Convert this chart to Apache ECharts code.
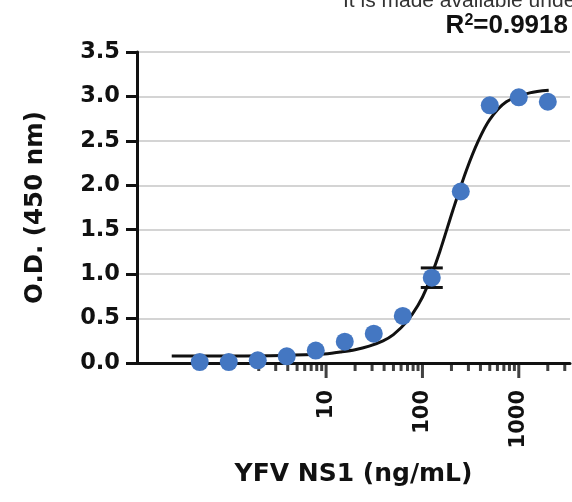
<!DOCTYPE html>
<html>
<head>
<meta charset="utf-8">
<script src="https://cdn.jsdelivr.net/npm/echarts@6/dist/echarts.min.js"></script>
<style>
  html, body { margin: 0; padding: 0; background: #ffffff; }
  #chart { width: 572px; height: 502px; }
</style>
</head>
<body>
<div id="chart"></div>
<script>
// YFV NS1 standard curve: two-fold dilution series, mean O.D. at 450 nm
const concentrations = [0.488, 0.977, 1.953, 3.906, 7.8125, 15.625, 31.25, 62.5, 125, 250, 500, 1000, 2000];
const odMeans = [0.01, 0.01, 0.03, 0.075, 0.14, 0.24, 0.33, 0.53, 0.96, 1.93, 2.90, 2.99, 2.94];
// spread that reaches past the marker (0 = hidden behind the dot)
const odSD = [0, 0, 0, 0, 0, 0, 0, 0, 0.11, 0, 0, 0, 0];

// Fitted sigmoidal curve, sampled along its length
const fitConc = [0.25, 1, 3.5, 9, 14, 20, 28, 39, 50, 68, 90, 110, 151, 207, 286, 380, 499, 743, 1297, 2044];
const fitOD = [0.08, 0.08, 0.085, 0.10, 0.125, 0.15, 0.19, 0.25, 0.32, 0.46, 0.65, 0.84, 1.25, 1.72, 2.17, 2.50, 2.74, 2.94, 3.04, 3.07];

// Tick positions on the log axis
const majorTicks = [10, 100, 1000];
const minorTicks = [2, 3, 4, 5, 6, 7, 8, 9, 20, 30, 40, 50, 60, 70, 80, 90,
                    200, 300, 400, 500, 600, 700, 800, 900, 2000, 3000];
const xTickLabels = ['10', '100', '1000'];

const rSquared = '0.9918';
const licenseLine = 'It is made available under';

const BOLD = '"DejaVu Sans", sans-serif';
const dotColor = '#4477c2';

const chart = echarts.init(document.getElementById('chart'), null, { renderer: 'canvas' });

const option = {
  backgroundColor: '#ffffff',
  animation: false,
  grid: {
    left: 137, right: 2, top: 52, bottom: 139,
    containLabel: false,
    outerBoundsMode: 'none'
  },
  xAxis: {
    type: 'log',
    logBase: 10,
    min: 0.109,
    max: 3400,
    splitNumber: 5,
    name: 'YFV NS1 (ng/mL)',
    nameLocation: 'middle',
    nameGap: 99,
    nameTextStyle: { fontFamily: BOLD, fontWeight: 'bold', fontSize: 25, color: '#111' },
    axisLine: { show: true, onZero: false, lineStyle: { color: '#111', width: 3 } },
    axisTick: { show: false },
    splitLine: { show: false },
    minorTick: { show: false },
    axisLabel: {
      rotate: 90,
      margin: 27,
      fontFamily: BOLD,
      fontWeight: 'bold',
      fontSize: 21,
      color: '#111',
      showMinLabel: true,
      showMaxLabel: true,
      hideOverlap: false,
      formatter: function (v) {
        const r = Math.round(v);
        const i = majorTicks.indexOf(r);
        return (i >= 0 && Math.abs(v - r) < 1e-6 * r) ? xTickLabels[i] : '';
      }
    }
  },
  yAxis: {
    type: 'value',
    min: 0,
    max: 3.5,
    interval: 0.5,
    name: 'O.D. (450 nm)',
    nameLocation: 'middle',
    nameGap: 89,
    nameTextStyle: { fontFamily: BOLD, fontWeight: 'bold', fontSize: 24.5, color: '#111' },
    axisLine: { show: true, lineStyle: { color: '#111', width: 3 } },
    axisTick: { show: true, inside: false, length: 11, lineStyle: { color: '#111', width: 3 } },
    axisLabel: {
      margin: 17,
      fontFamily: BOLD,
      fontWeight: 'bold',
      fontSize: 22.5,
      color: '#111',
      formatter: function (v) { return v.toFixed(1); }
    },
    splitLine: { show: true, lineStyle: { color: '#c6c6c6', width: 1.5 } }
  },
  graphic: [
    {
      type: 'text',
      z: 100,
      style: {
        x: 343, y: 12,
        text: licenseLine,
        font: '21px "Liberation Sans", Arial, sans-serif',
        fill: '#333',
        align: 'left',
        verticalAlign: 'bottom'
      }
    },
    {
      type: 'text',
      z: 100,
      style: {
        x: 568, y: 39,
        text: '{a|R}{s|2}{a|=' + rSquared + '}',
        align: 'right',
        verticalAlign: 'bottom',
        fill: '#111',
        rich: {
          a: { font: 'bold 26px "Liberation Sans", Arial, sans-serif', fill: '#111', lineHeight: 26, verticalAlign: 'bottom' },
          s: { font: 'bold 16px "Liberation Sans", Arial, sans-serif', fill: '#111', lineHeight: 26, verticalAlign: 'top' }
        }
      }
    }
  ],
  series: [
    {
      name: 'fit',
      type: 'line',
      data: fitConc.map((c, i) => [c, fitOD[i]]),
      smooth: 0.3,
      showSymbol: false,
      symbol: 'none',
      lineStyle: { color: '#111', width: 3 },
      silent: true,
      z: 2
    },
    {
      name: 'sd',
      type: 'custom',
      data: concentrations.map((c, i) => [c, odMeans[i] - odSD[i], odMeans[i] + odSD[i]]),
      renderItem: function (params, api) {
        if (api.value(2) - api.value(1) <= 0) return null;
        const lo = api.coord([api.value(0), api.value(1)]);
        const hi = api.coord([api.value(0), api.value(2)]);
        const hw = 11;
        const st = { stroke: '#111', lineWidth: 3 };
        return {
          type: 'group',
          children: [
            { type: 'line', shape: { x1: lo[0], y1: lo[1], x2: hi[0], y2: hi[1] }, style: st },
            { type: 'line', shape: { x1: hi[0] - hw, y1: hi[1], x2: hi[0] + hw, y2: hi[1] }, style: st },
            { type: 'line', shape: { x1: lo[0] - hw, y1: lo[1], x2: lo[0] + hw, y2: lo[1] }, style: st }
          ]
        };
      },
      encode: { x: 0, y: [1, 2] },
      silent: true,
      clip: false,
      z: 3
    },
    {
      name: 'mean',
      type: 'scatter',
      data: concentrations.map((c, i) => [c, odMeans[i]]),
      symbol: 'circle',
      symbolSize: 18,
      itemStyle: { color: dotColor, opacity: 1 },
      clip: false,
      silent: true,
      z: 4
    },
    {
      name: 'major ticks',
      type: 'scatter',
      data: majorTicks.map(v => [v, 0]),
      symbol: 'rect',
      symbolSize: [3, 15],
      symbolOffset: [0, 7.5],
      itemStyle: { color: '#111' },
      clip: false,
      silent: true,
      z: 1
    },
    {
      name: 'minor ticks',
      type: 'scatter',
      data: minorTicks.map(v => [v, 0]),
      symbol: 'rect',
      symbolSize: [3, 8],
      symbolOffset: [0, 4],
      itemStyle: { color: '#111' },
      clip: false,
      silent: true,
      z: 1
    }
  ]
};

chart.setOption(option);
</script>
</body>
</html>
